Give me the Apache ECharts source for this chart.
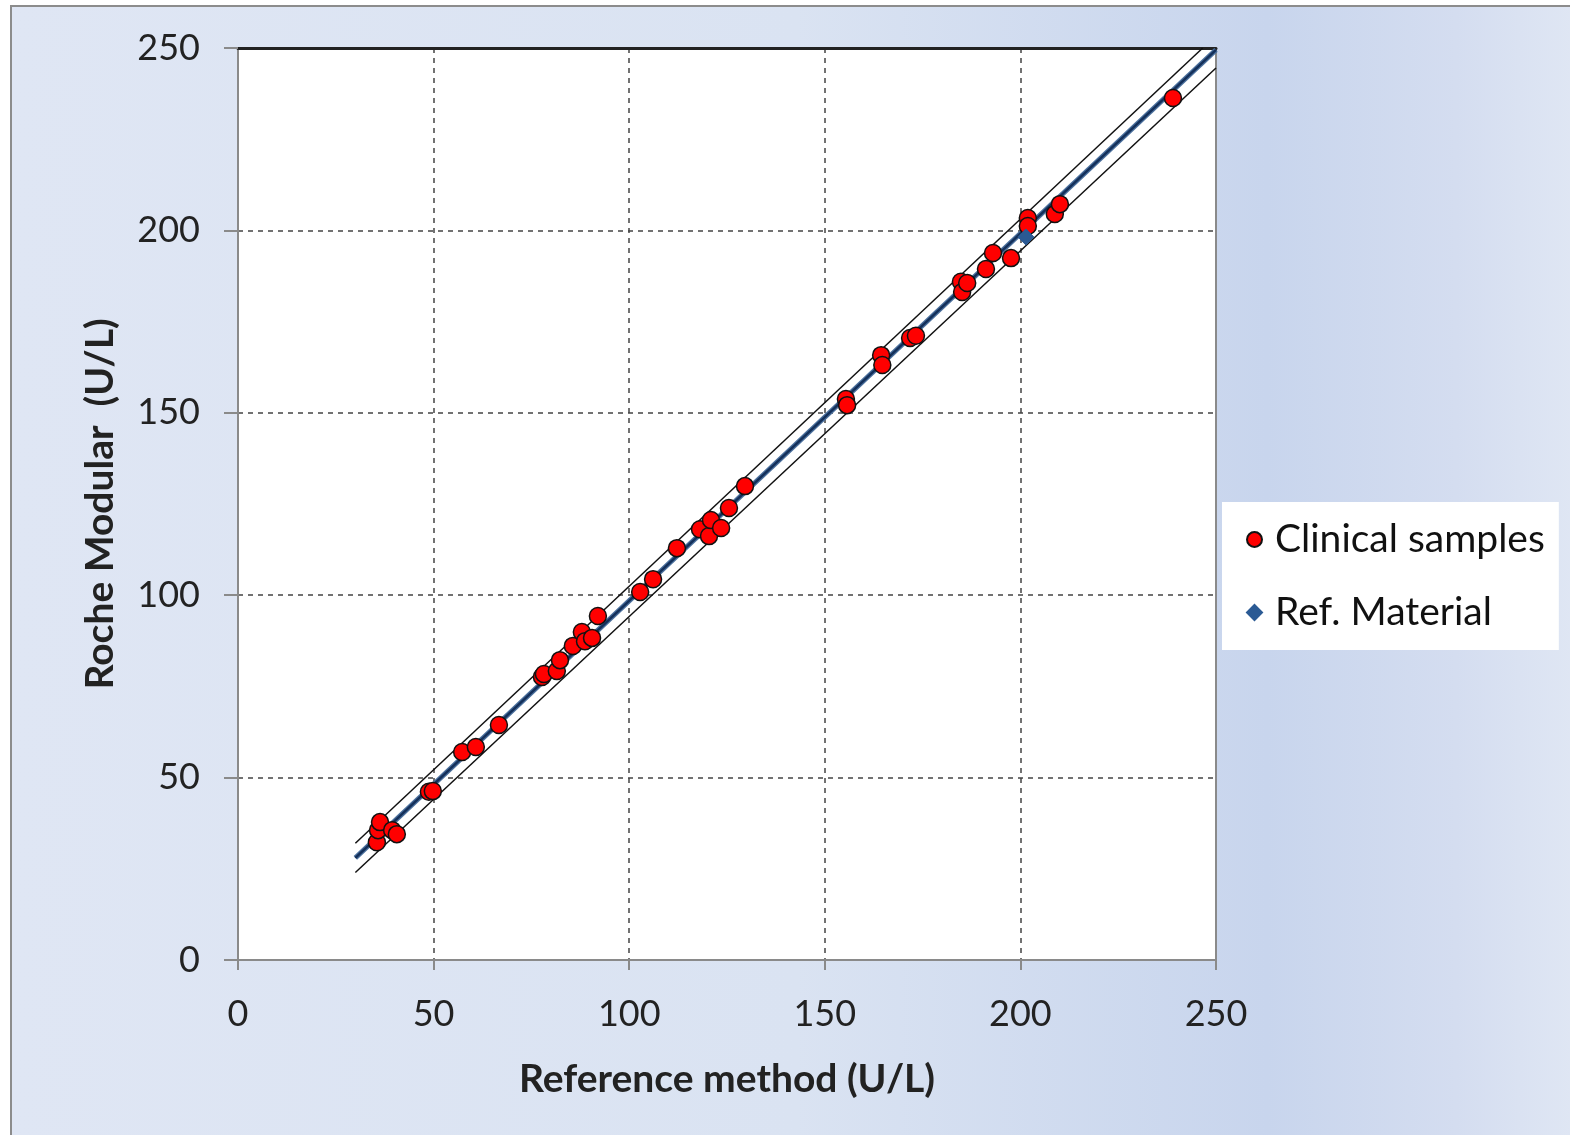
<!DOCTYPE html>
<html><head><meta charset="utf-8">
<script src="https://cdn.jsdelivr.net/npm/echarts/dist/echarts.min.js"></script>
<style>html,body{margin:0;padding:0;background:#fff}#c{width:1570px;height:1135px}</style>
</head><body><div id="c"></div>
<script>
// Clinical samples (Reference method x, Roche Modular y), U/L
const clinicalX = [35.5, 35.8, 36.3, 39.4, 40.6, 48.8, 49.8, 57.3, 60.8, 66.7,
  77.7, 78.2, 81.5, 82.3, 85.6, 87.9, 88.7, 90.5, 92.0, 102.8, 106.1,
  112.2, 118.1, 120.4, 120.9, 123.5, 125.5, 129.6,
  155.4, 155.7, 164.4, 164.7, 171.8, 173.3,
  184.8, 185.1, 186.4, 191.2, 193.0, 197.6, 201.9, 201.9, 208.8, 210.1, 239.0];
const clinicalY = [32.3, 35.6, 37.8, 35.6, 34.5, 46.1, 46.3, 57.0, 58.4, 64.4,
  77.6, 78.4, 79.2, 82.2, 86.1, 89.9, 87.4, 88.3, 94.3, 100.9, 104.4,
  112.9, 118.1, 116.2, 120.6, 118.4, 123.9, 129.9,
  153.8, 152.1, 165.8, 163.1, 170.5, 171.1,
  185.9, 183.1, 185.6, 189.4, 193.8, 192.4, 203.4, 201.2, 204.5, 207.2, 236.3];
// Reference material
const refX = [201.4];
const refY = [198.2];
// Regression line and bounds (endpoints)
const mainLineX = [30, 250], mainLineY = [28, 249.5];
const upperLineX = [30, 246.6], upperLineY = [32, 250];
const lowerLineX = [30, 250], lowerLineY = [24, 244.5];
const axisTicks = [0, 50, 100, 150, 200, 250];
const xTitle = 'Reference method (U/L)';
const yTitle = 'Roche Modular  (U/L)';

const zip = (a, b) => a.map((v, i) => [v, b[i]]);
const FONT = 'Lato, "Open Sans", sans-serif';

const chart = echarts.init(document.getElementById('c'), null, {renderer: 'canvas'});
chart.setOption({
  animation: false,
  backgroundColor: '#ffffff',
  graphic: [
    {type: 'rect', z: -10, shape: {x: 11, y: 6, width: 1570, height: 1135},
     style: {fill: new echarts.graphic.LinearGradient(0, 0, 1, 0, [
        {offset: 0, color: '#dfe6f4'}, {offset: 0.5, color: '#dae3f2'},
        {offset: 0.8, color: '#c8d5ed'}, {offset: 0.92, color: '#d4ddf0'},
        {offset: 1, color: '#e0e7f4'}]),
       stroke: '#8c8c8c', lineWidth: 2}}
  ],
  grid: {left: 238, right: 354, top: 48, bottom: 175, show: true,
         backgroundColor: '#ffffff', borderWidth: 0},
  legend: {
    orient: 'vertical', left: 1222, top: 502,
    backgroundColor: '#ffffff', padding: [18, 14, 18, 24], itemGap: 34,
    itemWidth: 15, itemHeight: 15,
    textStyle: {fontSize: 39, fontFamily: FONT, color: '#111', padding: [0, 0, 0, 8]},
    data: [
      {name: 'Clinical samples', icon: 'circle'},
      {name: 'Ref. Material', icon: 'diamond'}
    ]
  },
  xAxis: [{
    type: 'value', min: 0, max: 250, interval: 50,
    axisLine: {show: true, onZero: false, lineStyle: {color: '#8a8a8a', width: 2}},
    axisTick: {show: true, length: 10, lineStyle: {color: '#8a8a8a', width: 2}},
    axisLabel: {fontSize: 36, fontFamily: FONT, color: '#222', margin: 36},
    splitLine: {show: true, showMinLine: false, showMaxLine: false,
                lineStyle: {color: '#444', type: [5, 5], width: 1.5}},
    name: xTitle, nameLocation: 'middle', nameGap: 100,
    nameTextStyle: {fontSize: 39, fontWeight: 'bold', fontFamily: FONT, color: '#222'}
  }, {
    type: 'value', position: 'top', min: 0, max: 250, interval: 50,
    axisLine: {show: true, onZero: false, lineStyle: {color: '#222', width: 3}},
    axisTick: {show: false}, axisLabel: {show: false}, splitLine: {show: false}
  }],
  yAxis: [{
    type: 'value', min: 0, max: 250, interval: 50,
    axisLine: {show: true, onZero: false, lineStyle: {color: '#8a8a8a', width: 2}},
    axisTick: {show: true, length: 14, lineStyle: {color: '#8a8a8a', width: 2}},
    axisLabel: {fontSize: 36, fontFamily: FONT, color: '#222', margin: 38},
    splitLine: {show: true, showMinLine: false, showMaxLine: false,
                lineStyle: {color: '#444', type: [5, 5], width: 1.5}},
    name: yTitle, nameLocation: 'middle', nameGap: 118,
    nameTextStyle: {fontSize: 39, fontWeight: 'bold', fontFamily: FONT, color: '#222'}
  }, {
    type: 'value', position: 'right', min: 0, max: 250, interval: 50,
    axisLine: {show: true, onZero: false, lineStyle: {color: '#8a8a8a', width: 2}},
    axisTick: {show: false}, axisLabel: {show: false}, splitLine: {show: false}
  }],
  series: [
    {name: 'upper', type: 'line', data: zip(upperLineX, upperLineY), symbol: 'none',
     lineStyle: {color: '#111', width: 1.5}, z: 2, silent: true},
    {name: 'lower', type: 'line', data: zip(lowerLineX, lowerLineY), symbol: 'none',
     lineStyle: {color: '#111', width: 1.5}, z: 2, silent: true},
    {name: 'main', type: 'line', data: zip(mainLineX, mainLineY), symbol: 'none',
     lineStyle: {color: '#4a6f9c', width: 5}, z: 2, silent: true},
    {name: 'main2', type: 'line', data: zip(mainLineX, mainLineY), symbol: 'none',
     lineStyle: {color: '#14305a', width: 2.5}, z: 3, silent: true},
    {name: 'Clinical samples', type: 'scatter', data: zip(clinicalX, clinicalY),
     symbol: 'circle', symbolSize: 17,
     itemStyle: {color: '#ff0000', borderColor: '#111', borderWidth: 1.5, opacity: 1}, z: 5},
    {name: 'Ref. Material', type: 'scatter', data: zip(refX, refY),
     symbol: 'diamond', symbolSize: 16,
     itemStyle: {color: '#2b5a94', borderColor: '#2b5a94', borderWidth: 1, opacity: 1}, z: 6}
  ]
});
</script></body></html>
